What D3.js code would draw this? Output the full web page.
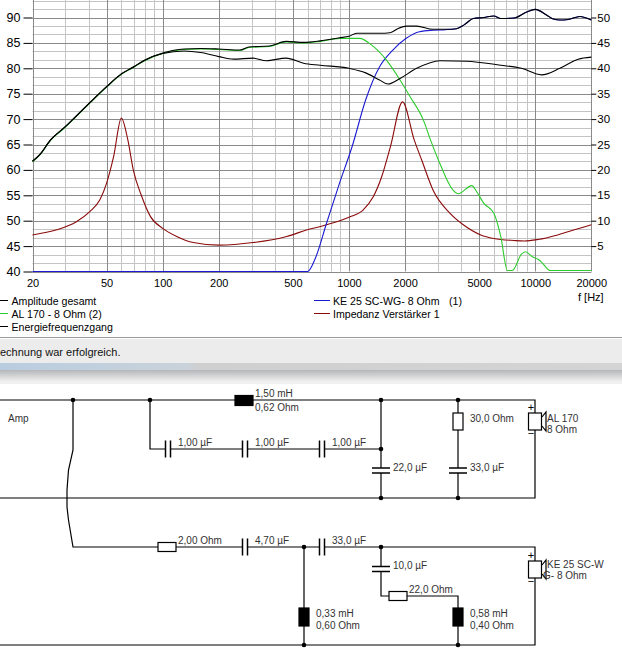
<!DOCTYPE html>
<html>
<head>
<meta charset="utf-8">
<script src="https://cdn.jsdelivr.net/npm/d3@7"></script>
<style>
html, body { margin: 0; padding: 0; background: #fff; overflow: hidden; }
svg { display: block; font-family: "Liberation Sans", Arial, sans-serif; }
</style>
</head>
<body>
<svg id="viz" width="622" height="671"></svg>
<script>
// Amplitude gesamt (dB)
const ampFreq = [20,22,25,30,40,50,60,70,80,100, 130,160,200,260,290,375,460,570,700,890,
  1000,1100,1460,1660,1850,2040,2310,2830,3300,3780, 4130,4660,5300,5990,6530,7690,9000,10000,11500,12500,
  13570,15000,17360,20000];
const ampDb = [61.7,63.1,65.9,68.5,73.0,76.4,78.9,80.3,81.6,83.0, 83.8,83.9,83.8,83.6,84.2,84.4,85.3,85.1,85.4,86.0,
  86.3,86.9,86.9,87.0,87.9,88.3,88.3,87.7,87.7,87.8, 88.5,89.8,90.0,90.3,89.8,89.9,91.1,91.6,90.5,89.7,
  89.5,89.6,90.2,89.5];

// Energiefrequenzgang (dB)
const energyFreq = [20,22,25,30,40,50,60,70,80,100, 130,160,200,240,306,360,460,570,700,1000,
  1230,1460,1620,1880,2310,3080,4290,6530,8430,10810, 13570,17000,20000];
const energyDb = [61.7,63.1,65.9,68.5,73.0,76.4,78.9,80.3,81.6,82.9, 83.4,83.1,82.3,81.8,82.0,81.5,82.0,81.0,80.6,80.0,
  79.1,77.7,76.9,78.0,80.0,81.5,81.4,80.6,80.0,78.7, 80.0,81.8,82.2];

// AL 170 - 8 Ohm (2)
const wooferFreq = [20,22,25,30,40,50,60,70,80,100, 130,160,200,260,290,375,460,570,700,890,
  1140,1320,1590,1880,2130,2510,2740,3080,3620,3860, 4570,4850,5300,5990,6530,7090,7540,8430,8860,9560,
  10350,10780,12000,20000];
const wooferDb = [61.6,63.0,65.8,68.4,72.9,76.3,78.8,80.2,81.5,82.9, 83.7,83.8,83.7,83.5,84.1,84.3,85.2,85.0,85.3,85.9,
  85.9,84.6,81.6,77.7,74.4,69.8,65.9,61.2,56.0,55.3, 56.9,55.7,53.4,51.5,46.9,40.2,40.2,43.4,43.9,43.0,
  42.4,41.9,40.2,40.2];

// KE 25 SC-WG- 8 Ohm (1)
const tweeterFreq = [20,600,660,758,890,1040,1230,1460,1720,2030, 2390,2830,3300,3780,4130,4660,5300,5990,6530,7690,
  9000,10000,11500,12500,13570,15000,17360,20000];
const tweeterDb = [40,40,42.6,49.5,57.4,64.6,73.8,80.3,83.6,85.9, 87.2,87.5,87.6,87.8,88.5,89.8,90.0,90.3,89.8,89.9,
  91.1,91.6,90.5,89.7,89.5,89.6,90.2,89.5];

// Impedanz Verstärker 1 (Ohm, right axis)
const impFreq = [20,27,34.4,40.6,46,50,54.5,60,65,69.5, 76.6,86,100,119,146,200,306,463,597,758,
  1000,1190,1350,1500,1670,1940,2240,2460,2830,3480, 4110,5100,5990,7690,8740,10350,13190,16240,20000];
const impOhm = [7.2,8.2,9.8,11.8,14.1,17.4,22.6,30.2,25.9,20.0, 15.1,10.8,8.5,6.9,5.7,5.2,5.7,6.9,8.2,9.2,
  10.7,12.1,14.7,18.7,24.6,33.4,25.9,21.9,16.0,11.5, 9.2,7.2,6.5,6.1,6.0,6.3,7.2,8.2,9.2];

// axis ticks
const freqTicks = [20,50,100,200,500,1000,2000,5000,10000,20000];
const dbTicks = [40,45,50,55,60,65,70,75,80,85,90];
const ohmTicks = [5,10,15,20,25,30,35,40,45,50];

const legendLeft = ["Amplitude gesamt", "AL 170 - 8 Ohm (2)", "Energiefrequenzgang"];
const legendRight = ["KE 25 SC-WG- 8 Ohm", "Impedanz Verstärker 1"];

const svg = d3.select('#viz');

const x = d3.scaleLog().domain([20, 20000]).range([32.5, 591.3]);
const yDb = d3.scaleLinear().domain([40, 90]).range([271.5, 17.5]);
const yOhm = d3.scaleLinear().domain([0, 50]).range([271.5, 17.5]);

// ---------- grid ----------
const grid = svg.append('g');
const minorX = [];
[10, 100, 1000, 10000].forEach(dec => {
  for (let k = 1; k < 10; k++) {
    const f = dec * k;
    if (f > 20 && f < 20000 && !freqTicks.includes(f)) minorX.push(f);
  }
});
grid.selectAll('line.mx').data(minorX).join('line')
  .attr('x1', d => Math.round(x(d)) + 0.5).attr('x2', d => Math.round(x(d)) + 0.5)
  .attr('y1', 0).attr('y2', 271.5)
  .attr('stroke', '#c4c4c4');
const minorY = d3.range(0, 33).map(i => 40 + i * 5 / 3).filter(v => Math.abs(v / 5 - Math.round(v / 5)) > 0.01);
grid.selectAll('line.my').data(minorY).join('line')
  .attr('x1', 32.5).attr('x2', 591.3)
  .attr('y1', d => Math.round(yDb(d)) + 0.5).attr('y2', d => Math.round(yDb(d)) + 0.5)
  .attr('stroke', '#c4c4c4');
grid.selectAll('line.My').data(dbTicks).join('line')
  .attr('x1', 32.5).attr('x2', 591.3)
  .attr('y1', d => Math.round(yDb(d)) + 0.5).attr('y2', d => Math.round(yDb(d)) + 0.5)
  .attr('stroke', '#8a8a8a');
grid.selectAll('line.Mx').data(freqTicks).join('line')
  .attr('x1', d => Math.round(x(d)) + 0.5).attr('x2', d => Math.round(x(d)) + 0.5)
  .attr('y1', 0).attr('y2', 271.5)
  .attr('stroke', '#8a8a8a');

// ---------- axes ----------
const axL = svg.append('g').attr('transform', 'translate(32.5,0)')
  .call(d3.axisLeft(yDb).tickValues(dbTicks).tickSize(9).tickPadding(3));
axL.select('.domain').remove();
axL.selectAll('text').attr('font-size', 12.5).attr('font-family', '"Liberation Sans", Arial, sans-serif').attr('fill', '#000');

const axR = svg.append('g').attr('transform', 'translate(591.3,0)')
  .call(d3.axisRight(yOhm).tickValues(ohmTicks).tickSize(5).tickPadding(1));
axR.select('.domain').remove();
axR.selectAll('text').attr('font-size', 11.5).attr('font-family', '"Liberation Sans", Arial, sans-serif').attr('fill', '#000');

const axB = svg.append('g').attr('transform', 'translate(0,271.5)')
  .call(d3.axisBottom(x).tickValues(freqTicks).tickFormat(d3.format('d')).tickSize(0).tickPadding(8));
axB.select('.domain').remove();
axB.selectAll('text').attr('font-size', 11).attr('font-family', '"Liberation Sans", Arial, sans-serif').attr('fill', '#000');

svg.append('text').attr('x', 578).attr('y', 301).attr('font-size', 11).text('f [Hz]');

// ---------- curves ----------
svg.append('clipPath').attr('id', 'plot')
  .append('rect').attr('x', 32).attr('y', 0).attr('width', 560).attr('height', 273);
const plot = svg.append('g').attr('clip-path', 'url(#plot)');

const zip = (fs, vs) => fs.map((f, i) => [f, vs[i]]);
const lineDb = d3.line().x(d => x(d[0])).y(d => yDb(d[1])).curve(d3.curveMonotoneX);
const lineOhm = d3.line().x(d => x(d[0])).y(d => yOhm(d[1])).curve(d3.curveMonotoneX);

const series = [
  { data: zip(impFreq, impOhm), line: lineOhm, color: '#8b0a0a' },
  { data: zip(tweeterFreq, tweeterDb), line: lineDb, color: '#1a1ad0' },
  { data: zip(wooferFreq, wooferDb), line: lineDb, color: '#2ccc2c' },
  { data: zip(energyFreq, energyDb), line: lineDb, color: '#000' },
  { data: zip(ampFreq, ampDb), line: lineDb, color: '#000' }
];
plot.selectAll('path.curve').data(series).join('path')
  .attr('class', 'curve')
  .attr('d', d => d.line(d.data))
  .attr('fill', 'none')
  .attr('stroke', d => d.color)
  .attr('stroke-width', 1.1);

// ---------- legend ----------
const legColL = ['#000', '#2ccc2c', '#000'];
const legColR = ['#1a1ad0', '#8b0a0a'];
const lg = svg.append('g').attr('font-size', 10.6);
lg.selectAll('line.l').data(legendLeft).join('line')
  .attr('x1', 0).attr('x2', 8)
  .attr('y1', (d, i) => 300.5 + i * 13).attr('y2', (d, i) => 300.5 + i * 13)
  .attr('stroke', (d, i) => legColL[i]);
lg.selectAll('text.l').data(legendLeft).join('text')
  .attr('x', 11.5).attr('y', (d, i) => 304.5 + i * 13).text(d => d);
lg.selectAll('line.r').data(legendRight).join('line')
  .attr('x1', 314).attr('x2', 330)
  .attr('y1', (d, i) => 300.5 + i * 13).attr('y2', (d, i) => 300.5 + i * 13)
  .attr('stroke', (d, i) => legColR[i]);
lg.selectAll('text.r').data(legendRight).join('text')
  .attr('x', 333).attr('y', (d, i) => 304.5 + i * 13).text(d => d);
lg.append('text').attr('x', 449).attr('y', 304.5).text('(1)');

// ---------- status bar ----------
const defs = svg.append('defs');
const g1 = defs.append('linearGradient').attr('id', 'edge').attr('x1', 0).attr('x2', 0).attr('y1', 0).attr('y2', 1);
g1.append('stop').attr('offset', 0).attr('stop-color', '#b4b6b9');
g1.append('stop').attr('offset', 1).attr('stop-color', '#eeeeee');
const g2 = defs.append('linearGradient').attr('id', 'prog').attr('x1', 0).attr('x2', 1).attr('y1', 0).attr('y2', 0);
g2.append('stop').attr('offset', 0).attr('stop-color', '#b9cde0');
g2.append('stop').attr('offset', 0.3).attr('stop-color', '#c9d2da');
g2.append('stop').attr('offset', 0.32).attr('stop-color', '#cfcfcf');
g2.append('stop').attr('offset', 1).attr('stop-color', '#d4d4d4');

svg.append('rect').attr('x', 0).attr('y', 337).attr('width', 622).attr('height', 1).attr('fill', '#9c9c9c');
svg.append('rect').attr('x', 0).attr('y', 338).attr('width', 622).attr('height', 1).attr('fill', '#fdfdfd');
svg.append('rect').attr('x', 0).attr('y', 339).attr('width', 622).attr('height', 24).attr('fill', '#ececec');
svg.append('text').attr('x', 0).attr('y', 356).attr('font-size', 11).attr('fill', '#111').text('echnung war erfolgreich.');
svg.append('rect').attr('x', 0).attr('y', 363).attr('width', 622).attr('height', 7).attr('fill', 'url(#prog)');
svg.append('rect').attr('x', 0).attr('y', 370).attr('width', 622).attr('height', 11).attr('fill', 'url(#edge)');
svg.append('rect').attr('x', 0).attr('y', 381).attr('width', 622).attr('height', 3).attr('fill', '#f0f0f0');

// ---------- schematic ----------
const sch = svg.append('g').attr('stroke', '#000').attr('stroke-width', 1.2).attr('fill', 'none');
const txt = svg.append('g').attr('font-size', 10).attr('fill', '#333');
const wire = pts => sch.append('path').attr('d', d3.line()(pts));
const dot = (cx, cy) => sch.append('circle').attr('cx', cx).attr('cy', cy).attr('r', 2.3).attr('fill', '#000').attr('stroke', 'none');
const label = (lx, ly, s) => txt.append('text').attr('x', lx).attr('y', ly).attr('dy', '0.35em').text(s);
const capH = (cx, cy) => {
  sch.append('rect').attr('x', cx - 2.5).attr('y', cy - 2).attr('width', 5).attr('height', 4).attr('fill', '#fff').attr('stroke', 'none');
  wire([[cx - 2.5, cy - 8.5], [cx - 2.5, cy + 8.5]]).attr('stroke-width', 1.5);
  wire([[cx + 2.5, cy - 8.5], [cx + 2.5, cy + 8.5]]).attr('stroke-width', 1.5);
};
const capV = (cx, cy) => {
  sch.append('rect').attr('x', cx - 2).attr('y', cy - 2.5).attr('width', 4).attr('height', 5).attr('fill', '#fff').attr('stroke', 'none');
  wire([[cx - 9, cy - 2.5], [cx + 9, cy - 2.5]]).attr('stroke-width', 1.5);
  wire([[cx - 9, cy + 2.5], [cx + 9, cy + 2.5]]).attr('stroke-width', 1.5);
};
const resH = (cx, cy) => sch.append('rect').attr('x', cx - 9).attr('y', cy - 4.5).attr('width', 18).attr('height', 9).attr('fill', '#fff');
const resV = (cx, cy) => sch.append('rect').attr('x', cx - 5).attr('y', cy - 8.5).attr('width', 10).attr('height', 17).attr('fill', '#fff');
const indH = (cx, cy) => sch.append('rect').attr('x', cx - 9).attr('y', cy - 5).attr('width', 18).attr('height', 10).attr('fill', '#000');
const indV = (cx, cy) => sch.append('rect').attr('x', cx - 5).attr('y', cy - 9).attr('width', 10).attr('height', 18).attr('fill', '#000');
const speaker = (cx, top) => {
  sch.append('rect').attr('x', cx - 6.5).attr('y', top).attr('width', 13).attr('height', 17).attr('fill', '#fff');
  wire([[cx + 7, top + 4], [cx + 11, top - 1], [cx + 11, top + 18], [cx + 7, top + 13]]);
  txt.append('text').attr('x', cx - 4).attr('y', top - 2).attr('text-anchor', 'middle').attr('font-size', 11).attr('fill', '#000').text('+');
  txt.append('text').attr('x', cx - 4).attr('y', top + 24).attr('text-anchor', 'middle').attr('font-size', 11).attr('fill', '#000').text('−');
};

// woofer branch
wire([[0, 400], [535, 400], [535, 498], [0, 498]]);
wire([[150, 400], [150, 449], [381, 449]]);
wire([[381, 400], [381, 498]]);
wire([[458, 400], [458, 498]]);
wire([[73, 400], [73, 450], [68.5, 470], [67, 490], [67, 507], [68.5, 520], [73, 547], [535, 547], [535, 645], [0, 645]]);
indH(244, 400.5);
label(255, 393, '1,50 mH');
label(255, 407, '0,62 Ohm');
[168, 245, 322].forEach(cx => { capH(cx, 449); label(cx + 10, 442, '1,00 µF'); });
capV(381, 470.5); label(393, 467, '22,0 µF');
resV(458, 421.5); label(470, 418, '30,0 Ohm');
capV(458, 470.5); label(470, 467, '33,0 µF');
speaker(535, 413);
label(547, 418, 'AL 170');
label(547, 429, '8 Ohm');
label(8, 418, 'Amp');
[[73, 400], [150, 400], [381, 400], [458, 400], [381, 449], [381, 498], [458, 498]].forEach(p => dot(p[0], p[1]));

// tweeter branch
wire([[304, 547], [304, 645]]);
wire([[381, 547], [381, 596], [458, 596], [458, 645]]);
resH(167, 547); label(178, 540, '2,00 Ohm');
capH(245, 547); label(255, 540, '4,70 µF');
indV(304, 617); label(316, 613, '0,33 mH'); label(316, 625, '0,60 Ohm');
capH(322, 547); label(332, 540, '33,0 µF');
capV(381, 569); label(393, 565, '10,0 µF');
resH(398, 596); label(409, 589, '22,0 Ohm');
indV(458, 617); label(470, 613, '0,58 mH'); label(470, 625, '0,40 Ohm');
speaker(535, 561);
label(547, 564, 'KE 25 SC-W');
label(543, 575, 'G- 8 Ohm');
[[304, 547], [381, 547], [304, 645], [458, 645]].forEach(p => dot(p[0], p[1]));
</script>
</body>
</html>
